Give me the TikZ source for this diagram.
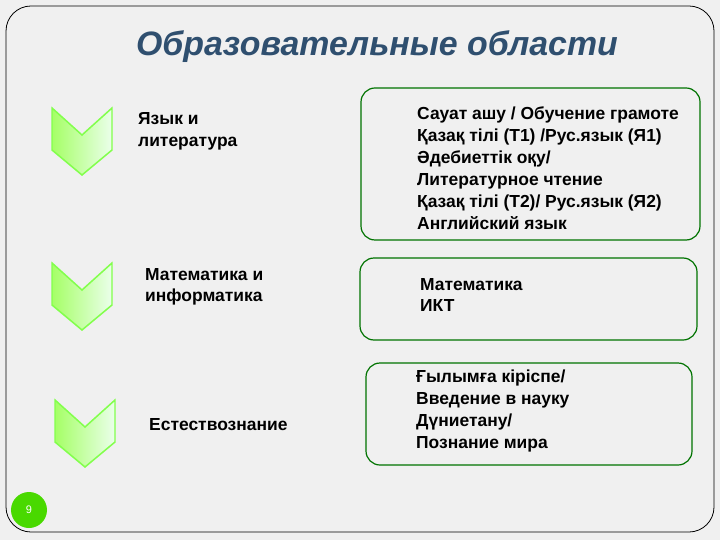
\documentclass[tikz,border=0pt]{standalone}
\usepackage{fontspec}
\setmainfont{Liberation Sans}
\begin{document}
\begin{tikzpicture}[x=1bp,y=-1bp,
 chev/.style={draw=green!60!lime!70!white, line width=1.5pt, left color=green!45!lime!60!white, right color=green!8!white},
 gbox/.style={draw=green!45!black, line width=1.2pt, rounded corners=14bp},
 txt/.style={anchor=north west, align=left, font=\fontsize{17.5}{21}\selectfont\bfseries, inner sep=0pt}]
\useasboundingbox (0,0) rectangle (720,540);
\fill[gray!12] (0,0) rectangle (720,540);
\draw[line width=0.8pt, rounded corners=25bp] (6,6) rectangle (714,532);
\node (title) at (377,47) {\fontsize{34}{38}\selectfont\bfseries\itshape\color[HTML]{2F4F6F}Образовательные области};
\foreach \n/\x/\y in {c1/52/108, c2/52/263, c3/55/400}{
 \path[chev] (\x,\y) -- (\x+30,\y+27) -- (\x+60,\y) -- (\x+60,\y+42) -- (\x+30,\y+67) -- (\x,\y+42) -- cycle;
 \coordinate (\n) at (\x+30,\y+30);
}
\node[txt, font=\fontsize{17.5}{22}\selectfont\bfseries] (l1) at (138,112) {Язык и\\литература};
\node[txt] (l2) at (145,268) {Математика и\\информатика};
\node[txt] (l3) at (149,418) {Естествознание};
\draw[gbox] (361,88) rectangle (700,240);
\draw[gbox] (360,258) rectangle (697,340);
\draw[gbox] (366,363) rectangle (692,465);
\node[txt, font=\fontsize{17.5}{22}\selectfont\bfseries] (r1) at (417,107) {Сауат ашу / Обучение грамоте\\Қазақ тілі (Т1) /Рус.язык (Я1)\\Әдебиеттік оқу/\\Литературное чтение\\Қазақ тілі (Т2)/ Рус.язык (Я2)\\Английский язык};
\node[txt] (r2) at (420,278) {Математика\\ИКТ};
\node[txt, font=\fontsize{17.5}{22}\selectfont\bfseries] (r3) at (416,370) {Ғылымға кіріспе/\\Введение в науку\\Дүниетану/\\Познание мира};
\node[circle, fill=green!55!lime!85!black, minimum size=36bp, inner sep=0pt, text=white, font=\fontsize{11}{12}\selectfont] (pg) at (29,510) {9};
\end{tikzpicture}
\end{document}
